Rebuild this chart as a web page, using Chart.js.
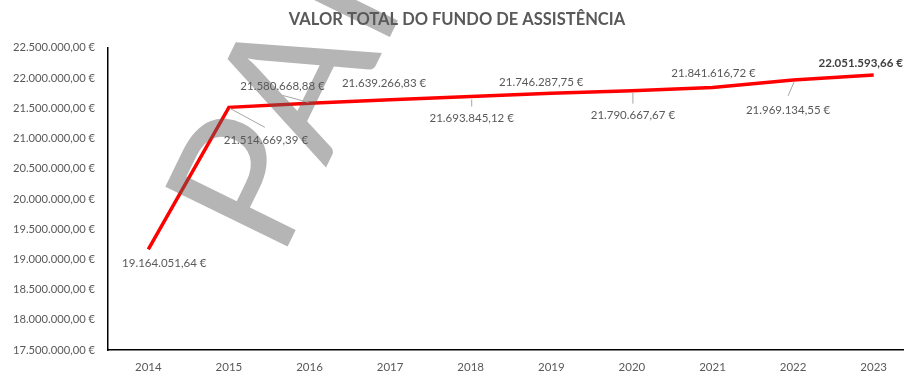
<!DOCTYPE html>
<html>
<head>
<meta charset="utf-8">
<script src="https://cdn.jsdelivr.net/npm/chart.js@4/dist/chart.umd.min.js"></script>
<style>
  html, body { margin: 0; padding: 0; background: #fff; overflow: hidden; }
  #wrap { width: 904px; height: 372px; overflow: hidden; }
</style>
</head>
<body>
<div id="wrap"><canvas id="fundo" width="918" height="372"></canvas></div>
<script>
// Valor total do fundo de assistência, por ano
const years = ["2014", "2015", "2016", "2017", "2018", "2019", "2020", "2021", "2022", "2023"];
const fundValues = [
  19164051.64, 21514669.39, 21580668.88, 21639266.83, 21693845.12,
  21746287.75, 21790667.67, 21841616.72, 21969134.55, 22051593.66
];
const yMin = 17500000;
const yMax = 22500000;
const yStep = 500000;

// where each value label sits relative to its point, and its leader line (if any)
const labelPlacement = [
  { dx: 16, dy: 14 },
  { dx: 37, dy: 33, leader: [1, 1, 36, 20] },
  { dx: -27, dy: -17, leader: [-1, -1, -27, -8] },
  { dx: -6, dy: -17 },
  { dx: 1, dy: 22, leader: [1, 3, 1, 10] },
  { dx: -10, dy: -11 },
  { dx: 1, dy: 25, leader: [1, 2, 1, 13] },
  { dx: 1, dy: -14 },
  { dx: -5, dy: 30, leader: [1, 2, -5, 16] },
  { dx: -13, dy: -12, bold: true }
];

const FONT = "Lato";
const GREY = "#595959";

function euro(v) {
  const parts = Math.abs(v).toFixed(2).split(".");
  return parts[0].replace(/\B(?=(\d{3})+(?!\d))/g, ".") + "," + parts[1] + " €";
}

// big translucent stamp across the left part of the plot
const stampPlugin = {
  id: "stamp",
  afterDatasetsDraw(chart) {
    const ctx = chart.ctx;
    ctx.save();
    ctx.translate(280, 262);
    ctx.rotate(-64 * Math.PI / 180);
    ctx.font = "190px " + FONT;
    ctx.fillStyle = "rgba(90,90,90,0.45)";
    ctx.textBaseline = "alphabetic";
    ctx.fillText("PARECER", 0, 0);
    ctx.restore();
  }
};

// value labels with small leader lines
const valueLabels = {
  id: "valueLabels",
  afterDraw(chart) {
    const ctx = chart.ctx;
    const meta = chart.getDatasetMeta(0);
    ctx.save();
    meta.data.forEach((pt, i) => {
      const p = labelPlacement[i];
      if (p.leader) {
        ctx.strokeStyle = "#a6a6a6";
        ctx.lineWidth = 1;
        ctx.beginPath();
        ctx.moveTo(pt.x + p.leader[0], pt.y + p.leader[1]);
        ctx.lineTo(pt.x + p.leader[2], pt.y + p.leader[3]);
        ctx.stroke();
      }
      ctx.font = (p.bold ? "bold " : "") + "11.5px " + FONT;
      ctx.fillStyle = p.bold ? "#404040" : GREY;
      ctx.textAlign = "center";
      ctx.textBaseline = "middle";
      ctx.fillText(euro(fundValues[i]), pt.x + p.dx, pt.y + p.dy);
    });
    ctx.restore();
  }
};

new Chart(document.getElementById("fundo"), {
  type: "line",
  data: {
    labels: years,
    datasets: [{
      data: fundValues,
      borderColor: "#ff0000",
      borderWidth: 3.5,
      pointRadius: 0,
      tension: 0,
      fill: false
    }]
  },
  options: {
    responsive: false,
    animation: false,
    devicePixelRatio: 1,
    layout: { padding: { left: 0, right: 4, top: 0, bottom: 0 } },
    plugins: {
      legend: { display: false },
      tooltip: { enabled: false },
      title: {
        display: true,
        text: "VALOR TOTAL DO FUNDO DE ASSISTÊNCIA",
        color: GREY,
        font: { family: FONT, size: 16.5, weight: "bold" },
        padding: { top: 10, bottom: 18 }
      }
    },
    scales: {
      x: {
        offset: true,
        grid: { display: false, drawTicks: false },
        border: { color: "#000", width: 1.5 },
        ticks: { color: GREY, font: { family: FONT, size: 11.5 }, padding: 10 },
        afterFit(s) { s.height = 22; }
      },
      y: {
        min: yMin,
        max: yMax,
        grid: { display: false, drawTicks: false },
        border: { color: "#000", width: 1.5 },
        ticks: {
          stepSize: yStep,
          color: GREY,
          font: { family: FONT, size: 11.2 },
          padding: 13,
          callback: v => euro(v)
        },
        afterFit(s) { s.width = 108; }
      }
    }
  },
  plugins: [stampPlugin, valueLabels]
});
</script>
</body>
</html>
